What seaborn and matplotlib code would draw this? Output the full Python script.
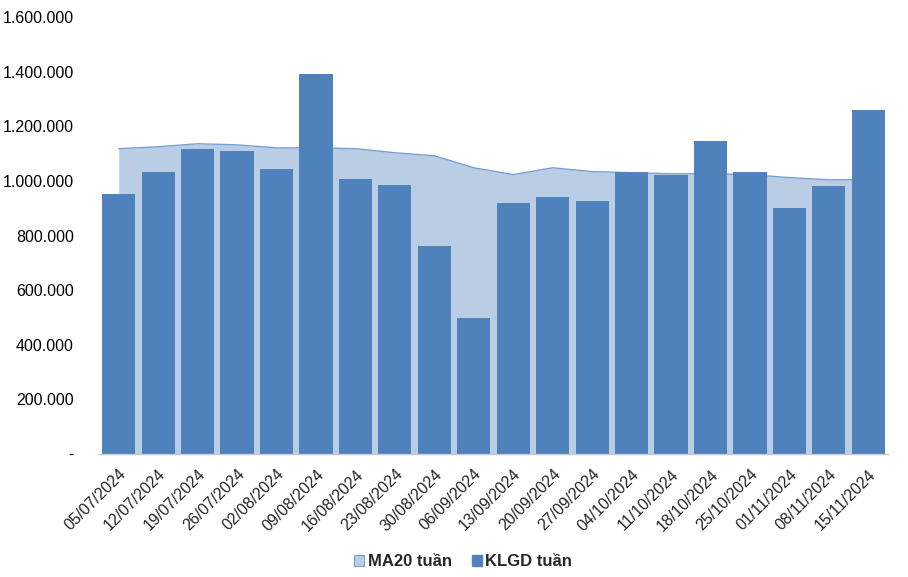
import matplotlib
matplotlib.use("Agg")
import matplotlib.pyplot as plt
import matplotlib.ticker as mticker
from matplotlib.patches import Patch
import numpy as np
import pandas as pd
import seaborn as sns

WEEKS = ["05/07/2024", "12/07/2024", "19/07/2024", "26/07/2024", "02/08/2024",
         "09/08/2024", "16/08/2024", "23/08/2024", "30/08/2024", "06/09/2024",
         "13/09/2024", "20/09/2024", "27/09/2024", "04/10/2024", "11/10/2024",
         "18/10/2024", "25/10/2024", "01/11/2024", "08/11/2024", "15/11/2024"]
KLGD = [953000, 1034000, 1118000, 1110000, 1045000, 1392000, 1008000, 986000,
        763000, 497000, 920000, 942000, 928000, 1034000, 1023000, 1147000,
        1034000, 902000, 983000, 1260000]
MA20 = [1118000, 1125000, 1136000, 1132000, 1121000, 1121000, 1118000, 1103000,
        1092000, 1048000, 1023000, 1048000, 1034000, 1030000, 1026000, 1026000,
        1023000, 1012000, 1004000, 1004000]
Y_TICKS = [0, 200000, 400000, 600000, 800000, 1000000, 1200000, 1400000, 1600000]

BAR_COLOR = "#4F81BD"
AREA_COLOR = "#B9CDE5"
AREA_EDGE = "#7B9FD2"

sns.set_style("white")
plt.rcParams['font.family'] = ['Liberation Sans', 'DejaVu Sans']

df = pd.DataFrame({'Tuan': WEEKS, 'KLGD': KLGD, 'MA20': MA20})

fig = plt.figure(figsize=(9.08, 5.77), dpi=100)
ax = fig.add_axes([0.109, 0.2132, 0.869, 0.7573])

pos = np.arange(len(WEEKS))
ax.fill_between(pos, 0, df['MA20'], color=AREA_COLOR, linewidth=0, zorder=1)
sns.lineplot(x=pos, y=df['MA20'].values, ax=ax, color=AREA_EDGE, linewidth=1.0, zorder=2)
sns.barplot(data=df, x='Tuan', y='KLGD', ax=ax, color=BAR_COLOR, saturation=1,
            width=0.84, linewidth=0, edgecolor=BAR_COLOR, zorder=3)

ax.set_xlim(-0.5, len(WEEKS) - 0.5)
ax.set_ylim(0, 1600000)
ax.set_yticks(Y_TICKS)
ax.yaxis.set_major_formatter(mticker.FuncFormatter(
    lambda v, p: "-" if v == 0 else f"{int(v):,}".replace(",", ".")))
ax.set_xlabel("")
ax.set_ylabel("")

for s in ["top", "right", "left"]:
    ax.spines[s].set_visible(False)
ax.spines["bottom"].set_color("#C8C8C8")
ax.spines["bottom"].set_linewidth(1)
ax.spines["bottom"].set_zorder(4)

ax.tick_params(axis='y', length=0, pad=18, labelsize=11.5, labelcolor="#000000")
ax.set_xticks(pos)
ax.set_xticklabels(WEEKS, rotation=45, ha='right', rotation_mode='anchor', fontsize=11.5)
ax.tick_params(axis='x', which='major', length=0, pad=9)
ax.set_xticks(np.arange(-0.5, len(WEEKS), 1), minor=True)
ax.tick_params(axis='x', which='minor', length=6, color="#C8C8C8", width=1, direction='out')

handles = [Patch(facecolor=AREA_COLOR, edgecolor=AREA_EDGE, linewidth=0.8, label="MA20 tuần"),
           Patch(facecolor=BAR_COLOR, edgecolor=BAR_COLOR, label="KLGD tuần")]
fig.legend(handles=handles, loc='center', bbox_to_anchor=(0.51, 0.026), ncol=2, frameon=False,
           prop={'size': 12, 'weight': 'bold'}, handlelength=0.6, handleheight=0.6,
           handletextpad=0.2, columnspacing=1.2)

fig.savefig("out.png", dpi=100)
